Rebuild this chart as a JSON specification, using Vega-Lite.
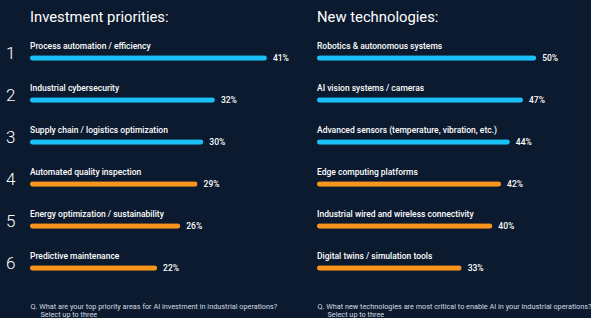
{
  "$schema": "https://vega.github.io/schema/vega-lite/v6.json",
  "background": "#0b1a2e",
  "padding": {"left": 5, "top": 10, "right": 0, "bottom": 0},
  "config": {
    "view": {"stroke": null},
    "font": "Roboto",
    "concat": {"spacing": 27},
    "title": {"anchor": "start", "frame": "group", "color": "#ffffff", "fontSize": 14.8, "fontWeight": "normal", "offset": 6}
  },
  "datasets": {
    "inv": [
      {"rank": 1, "item": "Process automation / efficiency", "pct": 0.41, "tier": "top"},
      {"rank": 2, "item": "Industrial cybersecurity", "pct": 0.32, "tier": "top"},
      {"rank": 3, "item": "Supply chain / logistics optimization", "pct": 0.30, "tier": "top"},
      {"rank": 4, "item": "Automated quality inspection", "pct": 0.29, "tier": "other"},
      {"rank": 5, "item": "Energy optimization / sustainability", "pct": 0.26, "tier": "other"},
      {"rank": 6, "item": "Predictive maintenance", "pct": 0.22, "tier": "other"}
    ],
    "tech": [
      {"rank": 1, "item": "Robotics & autonomous systems", "pct": 0.50, "tier": "top"},
      {"rank": 2, "item": "AI vision systems / cameras", "pct": 0.47, "tier": "top"},
      {"rank": 3, "item": "Advanced sensors (temperature, vibration, etc.)", "pct": 0.44, "tier": "top"},
      {"rank": 4, "item": "Edge computing platforms", "pct": 0.42, "tier": "other"},
      {"rank": 5, "item": "Industrial wired and wireless connectivity", "pct": 0.40, "tier": "other"},
      {"rank": 6, "item": "Digital twins / simulation tools", "pct": 0.33, "tier": "other"}
    ]
  },
  "hconcat": [
    {
      "width": 260,
      "height": 252,
      "data": {"name": "inv"},
      "title": "Investment priorities:",
      "encoding": {
        "y": {
          "field": "rank", "type": "ordinal",
          "scale": {"paddingInner": 0, "paddingOuter": 0},
          "axis": {"title": null, "ticks": false, "domain": false, "grid": false, "labelFontSize": 17, "labelFontWeight": 300, "labelColor": "#ffffff", "labelPadding": 15, "labelOffset": 2}
        }
      },
      "layer": [
        {
          "mark": {"type": "bar", "height": 5.5, "cornerRadius": 2.75, "yOffset": 6},
          "encoding": {
            "x": {
              "field": "pct", "type": "quantitative",
              "scale": {"domain": [0, 0.45]},
              "axis": {
                "labels": false, "ticks": false, "domain": false, "grid": false,
                "title": ["Q. What are your top priority areas for AI investment in industrial operations?", "\u2800\u2800Select up to three"],
                "titleAnchor": "start", "titleAlign": "left", "titleFontSize": 7.3, "titleFontWeight": "normal",
                "titleColor": "#d4dae2", "titlePadding": 19, "titleLineHeight": 8.5
              }
            },
            "color": {
              "field": "tier", "type": "nominal",
              "scale": {"domain": ["top", "other"], "range": ["#19bff5", "#f7951d"]},
              "legend": null
            }
          }
        },
        {
          "mark": {"type": "text", "align": "left", "baseline": "middle", "dy": -6, "fontSize": 8.5, "fontWeight": 500, "color": "#ffffff"},
          "encoding": {"x": {"datum": 0, "type": "quantitative"}, "text": {"field": "item"}}
        },
        {
          "mark": {"type": "text", "align": "left", "baseline": "middle", "dx": 6, "dy": 6, "fontSize": 8.5, "fontWeight": 500, "color": "#ffffff"},
          "encoding": {"x": {"field": "pct", "type": "quantitative"}, "text": {"field": "pct", "format": ".0%"}}
        }
      ]
    },
    {
      "width": 263,
      "height": 252,
      "data": {"name": "tech"},
      "title": "New technologies:",
      "encoding": {
        "y": {
          "field": "rank", "type": "ordinal",
          "scale": {"paddingInner": 0, "paddingOuter": 0},
          "axis": null
        }
      },
      "layer": [
        {
          "mark": {"type": "bar", "height": 5.5, "cornerRadius": 2.75, "yOffset": 6},
          "encoding": {
            "x": {
              "field": "pct", "type": "quantitative",
              "scale": {"domain": [0, 0.56]},
              "axis": {
                "labels": false, "ticks": false, "domain": false, "grid": false,
                "title": ["Q. What new technologies are most critical to enable AI in your industrial operations?", "\u2800\u2800Select up to three"],
                "titleAnchor": "start", "titleAlign": "left", "titleFontSize": 7.3, "titleFontWeight": "normal",
                "titleColor": "#d4dae2", "titlePadding": 19, "titleLineHeight": 8.5
              }
            },
            "color": {
              "field": "tier", "type": "nominal",
              "scale": {"domain": ["top", "other"], "range": ["#19bff5", "#f7951d"]},
              "legend": null
            }
          }
        },
        {
          "mark": {"type": "text", "align": "left", "baseline": "middle", "dy": -6, "fontSize": 8.5, "fontWeight": 500, "color": "#ffffff"},
          "encoding": {"x": {"datum": 0, "type": "quantitative"}, "text": {"field": "item"}}
        },
        {
          "mark": {"type": "text", "align": "left", "baseline": "middle", "dx": 6, "dy": 6, "fontSize": 8.5, "fontWeight": 500, "color": "#ffffff"},
          "encoding": {"x": {"field": "pct", "type": "quantitative"}, "text": {"field": "pct", "format": ".0%"}}
        }
      ]
    }
  ]
}
